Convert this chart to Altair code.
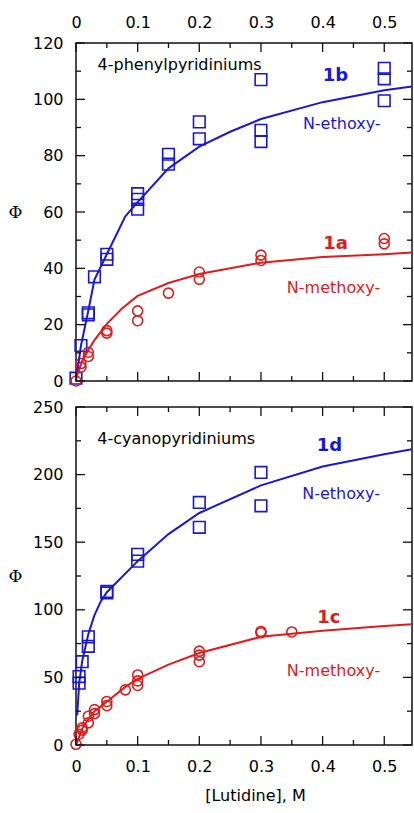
import altair as alt
import pandas as pd

# ---------------- data ----------------
# top panel: 4-phenylpyridiniums
b1_x = [0, 0.008, 0.02, 0.02, 0.03, 0.05, 0.05, 0.1, 0.1, 0.1, 0.15, 0.15, 0.2, 0.2, 0.3, 0.3, 0.3, 0.5, 0.5, 0.5]
b1_y = [1, 12.6, 24.2, 23.5, 37, 45, 43.2, 66.5, 64.5, 61, 80.5, 77, 92, 86, 107, 89, 85, 111, 107.3, 99.5]
a1_x = [0, 0.008, 0.008, 0.02, 0.02, 0.05, 0.05, 0.1, 0.1, 0.15, 0.2, 0.2, 0.3, 0.3, 0.5, 0.5]
a1_y = [0, 6.2, 4.9, 10.2, 8.7, 17.9, 17.0, 24.9, 21.4, 31.2, 38.7, 36.1, 44.7, 42.8, 50.6, 48.7]
b1_fit_x = [0, 0.008, 0.02, 0.03, 0.05, 0.08, 0.1, 0.15, 0.2, 0.25, 0.3, 0.4, 0.5, 0.545]
b1_fit_y = [0, 12.5, 25, 36, 45, 58.5, 63.5, 75.5, 83.2, 88.5, 93, 99, 103.2, 104.6]
a1_fit_x = [0, 0.01, 0.02, 0.03, 0.05, 0.075, 0.1, 0.15, 0.2, 0.3, 0.4, 0.5, 0.545]
a1_fit_y = [1, 7, 11, 14.5, 20.3, 25.8, 30.2, 34.8, 38, 42, 44, 45, 45.6]

# bottom panel: 4-cyanopyridiniums
d1_x = [0.005, 0.005, 0.01, 0.02, 0.02, 0.05, 0.05, 0.1, 0.1, 0.2, 0.2, 0.3, 0.3]
d1_y = [50.6, 45.7, 61.6, 80, 73, 113.6, 112.5, 141, 136, 179.4, 161, 201.6, 176.9]
c1_x = [0, 0.005, 0.01, 0.01, 0.02, 0.02, 0.03, 0.03, 0.05, 0.05, 0.08, 0.1, 0.1, 0.1, 0.2, 0.2, 0.2, 0.3, 0.3, 0.35]
c1_y = [0.5, 8, 12.7, 11, 21.3, 16.4, 26.2, 23.2, 32.2, 29.1, 40.8, 51.8, 47.4, 44, 69.4, 66.5, 61.6, 84, 83, 83.6]
d1_fit_x = [0.002, 0.005, 0.01, 0.02, 0.03, 0.04, 0.05, 0.1, 0.15, 0.2, 0.3, 0.4, 0.5, 0.545]
d1_fit_y = [22, 45, 62, 82, 96, 106, 113, 136, 156, 171.6, 192, 206, 215, 218.7]
c1_fit_x = [0, 0.01, 0.02, 0.03, 0.05, 0.08, 0.1, 0.15, 0.2, 0.3, 0.4, 0.5, 0.545]
c1_fit_y = [0, 12, 19, 25, 32, 43, 49, 59.5, 68, 80, 84.5, 88, 89.3]

# annotations
top_note = ["4-phenylpyridiniums", 0.035, 112.1]
top_labels = ["1b", "1a"]
top_labels_x = [0.421, 0.421]
top_labels_y = [108.2, 48.5]
top_sub = ["N-ethoxy-", "N-methoxy-"]
top_sub_x = [0.368, 0.342]
top_sub_y = [91.2, 33.0]

bot_note = ["4-cyanopyridiniums", 0.0345, 226.5]
bot_labels = ["1d", "1c"]
bot_labels_x = [0.411, 0.41]
bot_labels_y = [221.4, 93.8]
bot_sub = ["N-ethoxy-", "N-methoxy-"]
bot_sub_x = [0.367, 0.342]
bot_sub_y = [185.5, 55.0]

x_major = [0, 0.1, 0.2, 0.3, 0.4, 0.5]
x_minor = [0.05, 0.15, 0.25, 0.35, 0.45]
top_y_major = [0, 20, 40, 60, 80, 100, 120]
top_y_minor = [10, 30, 50, 70, 90, 110]
bot_y_major = [0, 50, 100, 150, 200, 250]
bot_y_minor = [25, 75, 125, 175, 225]

# ---------------- styling ----------------
BLUE = "#1818d4"
RED = "#e01b1b"
FONT = "DejaVu Sans"
W, H = 336, 338
XMAX = 0.545
INK = "#111111"
MAJ, MIN = 9, 5


def panel(sq_x, sq_y, ci_x, ci_y, bfx, bfy, rfx, rfy, note, labs, labs_x, labs_y,
          subs, subs_x, subs_y, ymax, ymaj, ymin, top):
    xs = alt.Scale(domain=[0, XMAX], nice=False, zero=False)
    ys = alt.Scale(domain=[0, ymax], nice=False, zero=False)

    # one identical axis definition shared by every layer, so they merge cleanly
    xlab = alt.Axis(orient="top" if top else "bottom", values=x_major,
                    labelExpr="datum.value == 0 ? '0' : format(datum.value, '.1f')",
                    ticks=False, tickSize=0, domain=False,
                    labelFont=FONT, labelFontSize=16, labelColor="#000", labelPadding=13,
                    labelFlush=False, grid=False,
                    title=None if top else "[Lutidine], M",
                    titleFont=FONT, titleFontSize=16, titleFontWeight="normal",
                    titleColor="#000", titleX=179, titleY=42, titleAlign="center",
                    titleBaseline="top")
    ylab = alt.Axis(orient="left", values=ymaj, ticks=False, tickSize=0, domain=False,
                    labelFont=FONT, labelFontSize=16,
                    labelColor="#000", labelPadding=13, grid=False,
                    title="Φ", titleAngle=0, titleX=-61, titleY=H / 2,
                    titleAlign="center", titleBaseline="middle",
                    titleFont="DejaVu Serif", titleFontSize=17,
                    titleFontWeight="normal", titleColor="#000")

    def X(f):
        return alt.X(f, scale=xs, axis=xlab)

    def Y(f):
        return alt.Y(f, scale=ys, axis=ylab)

    bfit = pd.DataFrame({"x": bfx, "y": bfy})
    rfit = pd.DataFrame({"x": rfx, "y": rfy})
    sq = pd.DataFrame({"x": sq_x, "y": sq_y})
    ci = pd.DataFrame({"x": ci_x, "y": ci_y})

    p_sq = alt.Chart(sq).mark_point(shape="square", filled=False, size=135, opacity=1,
                                    strokeWidth=1.6, color=BLUE).encode(
        x=X("x:Q"), y=Y("y:Q"))
    p_ci = alt.Chart(ci).mark_point(shape="circle", filled=False, size=100, opacity=1,
                                    strokeWidth=1.6, color=RED).encode(
        x=X("x:Q"), y=Y("y:Q"))
    l_blue = alt.Chart(bfit).mark_line(color=BLUE, strokeWidth=2, clip=True).encode(
        x=X("x:Q"), y=Y("y:Q"))
    l_red = alt.Chart(rfit).mark_line(color=RED, strokeWidth=2, clip=True).encode(
        x=X("x:Q"), y=Y("y:Q"))

    layers = [p_sq, p_ci, l_blue, l_red]

    # inward ticks on all four edges, placed through the scales
    for vals, ln in ((x_major, MAJ), (x_minor, MIN)):
        tdf = pd.DataFrame({"x": vals})
        base = alt.Chart(tdf).mark_rule(color=INK, strokeWidth=1.3)
        layers.append(base.encode(x=X("x:Q"), y=alt.value(0), y2=alt.value(ln)))
        layers.append(base.encode(x=X("x:Q"), y=alt.value(H), y2=alt.value(H - ln)))
    for vals, ln in ((ymaj, MAJ), (ymin, MIN)):
        tdf = pd.DataFrame({"y": vals})
        base = alt.Chart(tdf).mark_rule(color=INK, strokeWidth=1.3)
        layers.append(base.encode(y=Y("y:Q"), x=alt.value(0), x2=alt.value(ln)))
        layers.append(base.encode(y=Y("y:Q"), x=alt.value(W), x2=alt.value(W - ln)))

    nd = pd.DataFrame({"t": [note[0]], "x": [note[1]], "y": [note[2]]})
    t_note = alt.Chart(nd).mark_text(align="left", baseline="middle", font=FONT,
                                     fontSize=16, color="#000").encode(
        x=X("x:Q"), y=Y("y:Q"), text="t:N")

    ld = pd.DataFrame({"t": labs, "x": labs_x, "y": labs_y, "c": [BLUE, RED]})
    t_lab = alt.Chart(ld).mark_text(align="center", baseline="middle", font=FONT,
                                    fontSize=18, fontWeight="bold").encode(
        x=X("x:Q"), y=Y("y:Q"), text="t:N",
        color=alt.Color("c:N", scale=None))

    sd = pd.DataFrame({"t": subs, "x": subs_x, "y": subs_y, "c": [BLUE, RED]})
    t_sub = alt.Chart(sd).mark_text(align="left", baseline="middle", font=FONT,
                                    fontSize=16).encode(
        x=X("x:Q"), y=Y("y:Q"), text="t:N",
        color=alt.Color("c:N", scale=None))

    layers += [t_note, t_lab, t_sub]
    return alt.layer(*layers).properties(width=W, height=H)


top = panel(b1_x, b1_y, a1_x, a1_y, b1_fit_x, b1_fit_y, a1_fit_x, a1_fit_y,
            top_note, top_labels, top_labels_x, top_labels_y,
            top_sub, top_sub_x, top_sub_y, 120, top_y_major, top_y_minor, True)
bottom = panel(d1_x, d1_y, c1_x, c1_y, d1_fit_x, d1_fit_y, c1_fit_x, c1_fit_y,
               bot_note, bot_labels, bot_labels_x, bot_labels_y,
               bot_sub, bot_sub_x, bot_sub_y, 250, bot_y_major, bot_y_minor, False)

chart = alt.vconcat(top, bottom, spacing=8).properties(
    padding={"left": 7, "top": 13, "right": 0, "bottom": 0},
    background="white",
).configure_view(stroke=INK, strokeWidth=1.5)

chart.save("out.html", embed_options={"renderer": "svg", "actions": False})
